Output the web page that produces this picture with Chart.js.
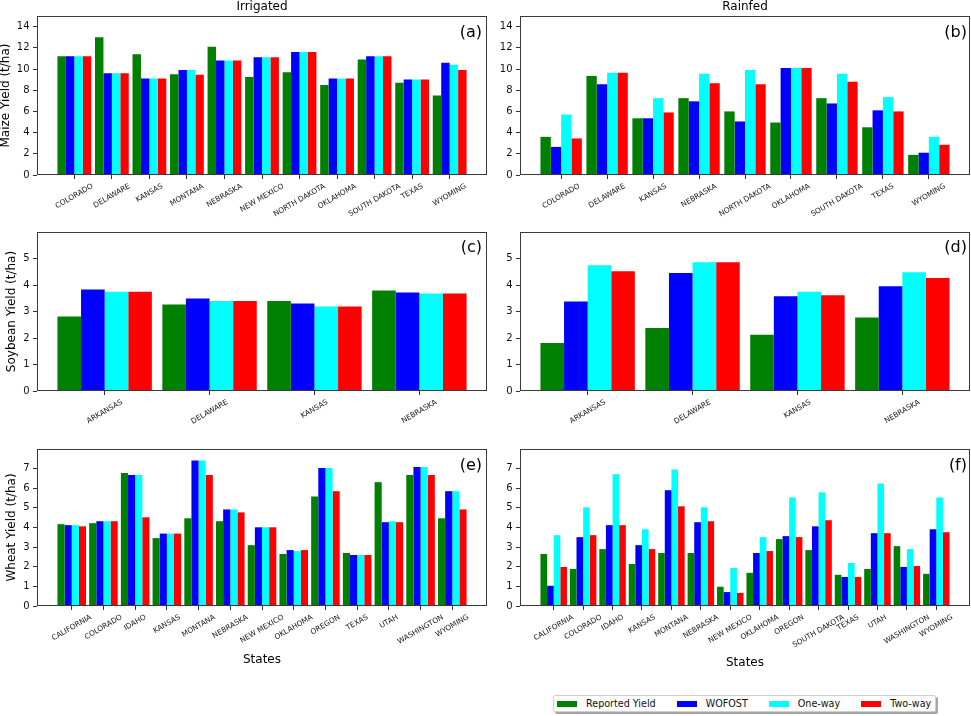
<!DOCTYPE html>
<html><head><meta charset="utf-8">
<script src="https://cdn.jsdelivr.net/npm/chart.js@4.4.1/dist/chart.umd.min.js"></script>
<style>
html,body{margin:0;padding:0;background:#fff;}
body{width:971px;height:716px;overflow:hidden;position:relative;font-family:"DejaVu Sans",sans-serif;}
canvas{position:absolute;}
.txt{position:absolute;white-space:nowrap;color:#000;}
.letter{font-size:16px;line-height:16px;}
.coltitle{font-size:12px;line-height:12px;transform:translateX(-50%);}
#legend{position:absolute;left:553px;top:695px;height:17px;box-sizing:border-box;border:1px solid #cfcfcf;border-radius:2px;background:#fff;box-shadow:2px 2px 0 rgba(0,0,0,0.35);display:flex;align-items:center;padding:0 4px 0 3px;font-size:9.6px;}
#legend .sw{width:20px;height:6px;margin-right:9px;}
#legend .lb{margin-right:21px;color:#111;}
#legend .lb:last-child{margin-right:0;}
</style></head><body>
<canvas id="pa"></canvas><canvas id="pb"></canvas>
<canvas id="pc"></canvas><canvas id="pd"></canvas>
<canvas id="pe"></canvas><canvas id="pf"></canvas>
<div class="txt coltitle" style="left:262px;top:0px;">Irrigated</div>
<div class="txt coltitle" style="left:745px;top:0px;">Rainfed</div>
<div class="txt letter" style="right:489px;top:24px;">(a)</div>
<div class="txt letter" style="right:4px;top:24px;">(b)</div>
<div class="txt letter" style="right:489px;top:239px;">(c)</div>
<div class="txt letter" style="right:4px;top:239px;">(d)</div>
<div class="txt letter" style="right:489px;top:457px;">(e)</div>
<div class="txt letter" style="right:4px;top:457px;">(f)</div>
<div id="legend"></div>
<script>
// ---- series ----
const seriesNames = ['Reported Yield', 'WOFOST', 'One-way', 'Two-way'];
const seriesColors = ['#008000', '#0000ff', '#00ffff', '#ff0000'];

// ---- tick labels ----
const maizeTicks = [0, 2, 4, 6, 8, 10, 12, 14];
const maizeMax = 15;
const soyTicks = [0, 1, 2, 3, 4, 5];
const soyMax = 6;
const wheatTicks = [0, 1, 2, 3, 4, 5, 6, 7];
const wheatMax = 8;

// ---- (a) Maize, irrigated ----
const maizeIrrStates = ['COLORADO','DELAWARE','KANSAS','MONTANA','NEBRASKA','NEW MEXICO','NORTH DAKOTA','OKLAHOMA','SOUTH DAKOTA','TEXAS','WYOMING'];
const maizeIrrReported = [11.2, 13.0, 11.4, 9.5, 12.1, 9.25, 9.7, 8.5, 10.9, 8.7, 7.5];
const maizeIrrWofost   = [11.2, 9.6, 9.1, 9.9, 10.8, 11.1, 11.6, 9.1, 11.2, 9.0, 10.6];
const maizeIrrOneway   = [11.2, 9.6, 9.1, 9.9, 10.8, 11.1, 11.6, 9.1, 11.2, 9.0, 10.4];
const maizeIrrTwoway   = [11.2, 9.6, 9.1, 9.45, 10.8, 11.1, 11.6, 9.1, 11.2, 9.0, 9.9];

// ---- (b) Maize, rainfed ----
const maizeRfStates = ['COLORADO','DELAWARE','KANSAS','NEBRASKA','NORTH DAKOTA','OKLAHOMA','SOUTH DAKOTA','TEXAS','WYOMING'];
const maizeRfReported = [3.6, 9.35, 5.35, 7.25, 6.0, 4.95, 7.25, 4.5, 1.9];
const maizeRfWofost   = [2.65, 8.55, 5.35, 6.95, 5.05, 10.1, 6.75, 6.1, 2.1];
const maizeRfOneway   = [5.7, 9.65, 7.25, 9.55, 9.9, 10.1, 9.55, 7.35, 3.6];
const maizeRfTwoway   = [3.45, 9.65, 5.9, 8.65, 8.55, 10.1, 8.8, 6.0, 2.85];

// ---- (c) Soybean, irrigated ----
const soyIrrStates = ['ARKANSAS','DELAWARE','KANSAS','NEBRASKA'];
const soyIrrReported = [2.81, 3.26, 3.40, 3.79];
const soyIrrWofost   = [3.83, 3.49, 3.30, 3.72];
const soyIrrOneway   = [3.75, 3.40, 3.19, 3.68];
const soyIrrTwoway   = [3.75, 3.40, 3.19, 3.68];

// ---- (d) Soybean, rainfed ----
const soyRfStates = ['ARKANSAS','DELAWARE','KANSAS','NEBRASKA'];
const soyRfReported = [1.81, 2.38, 2.12, 2.77];
const soyRfWofost   = [3.38, 4.45, 3.58, 3.95];
const soyRfOneway   = [4.75, 4.86, 3.75, 4.48];
const soyRfTwoway   = [4.52, 4.86, 3.61, 4.26];

// ---- (e) Wheat, irrigated ----
const wheatIrrStates = ['CALIFORNIA','COLORADO','IDAHO','KANSAS','MONTANA','NEBRASKA','NEW MEXICO','OKLAHOMA','OREGON','TEXAS','UTAH','WASHINGTON','WYOMING'];
const wheatIrrReported = [4.17, 4.22, 6.78, 3.46, 4.47, 4.32, 3.10, 2.65, 5.58, 2.70, 6.31, 6.68, 4.47];
const wheatIrrWofost   = [4.12, 4.32, 6.68, 3.69, 7.42, 4.92, 4.01, 2.85, 7.03, 2.60, 4.27, 7.08, 5.85];
const wheatIrrOneway   = [4.12, 4.32, 6.68, 3.69, 7.42, 4.92, 4.01, 2.80, 7.03, 2.60, 4.32, 7.08, 5.85];
const wheatIrrTwoway   = [4.06, 4.32, 4.52, 3.69, 6.68, 4.77, 4.01, 2.85, 5.85, 2.60, 4.27, 6.68, 4.92];

// ---- (f) Wheat, rainfed ----
const wheatRfStates = ['CALIFORNIA','COLORADO','IDAHO','KANSAS','MONTANA','NEBRASKA','NEW MEXICO','OKLAHOMA','OREGON','SOUTH DAKOTA','TEXAS','UTAH','WASHINGTON','WYOMING'];
const wheatRfReported = [2.65, 1.89, 2.90, 2.14, 2.70, 2.70, 0.98, 1.69, 3.41, 2.85, 1.59, 1.89, 3.05, 1.64];
const wheatRfWofost   = [1.03, 3.51, 4.12, 3.10, 5.90, 4.27, 0.71, 2.70, 3.56, 4.06, 1.48, 3.71, 1.99, 3.91];
const wheatRfOneway   = [3.61, 5.03, 6.71, 3.91, 6.95, 5.03, 1.94, 3.51, 5.53, 5.79, 2.19, 6.24, 2.90, 5.53];
const wheatRfTwoway   = [1.99, 3.61, 4.12, 2.90, 5.08, 4.32, 0.67, 2.80, 3.51, 4.37, 1.48, 3.71, 2.04, 3.76];

// ---- legend (HTML, built from series arrays) ----
const legendEl = document.getElementById('legend');
seriesNames.forEach((n, i) => {
  const sw = document.createElement('span'); sw.className = 'sw'; sw.style.background = seriesColors[i];
  const lb = document.createElement('span'); lb.className = 'lb'; lb.textContent = n;
  legendEl.appendChild(sw); legendEl.appendChild(lb);
});

// ---- plugins ----
const framePlugin = {
  id: 'frame',
  afterDraw(chart) {
    const a = chart.chartArea, ctx = chart.ctx;
    ctx.save();
    ctx.strokeStyle = '#3a3a3a'; ctx.lineWidth = 1;
    ctx.strokeRect(Math.round(a.left) + 0.5, Math.round(a.top) + 0.5, Math.round(a.right - a.left) - 1, Math.round(a.bottom - a.top) - 1);
    ctx.restore();
  }
};
// matplotlib-style centring of rotated tick labels
const centerLabelsPlugin = {
  id: 'centerLabels',
  beforeDraw(chart) {
    const scale = chart.scales.x;
    if (!scale || typeof scale.getLabelItems !== 'function') return;
    const items = scale.getLabelItems();
    const ctx = chart.ctx;
    const ang = Math.PI / 6;
    items.forEach((item, i) => {
      if (item._centered) return;
      ctx.save(); ctx.font = item.font.string;
      const w = ctx.measureText(String(item.label)).width;
      ctx.restore();
      const h = item.font.size;
      const tx = scale.getPixelForTick(i);
      const bbH = w * Math.sin(ang) + h * Math.cos(ang);
      item.options.translation = [tx, scale.top + 7.5 + bbH / 2];
      item.options.textAlign = 'center';
      item.options.textBaseline = 'middle';
      item.textOffset = 0;
      item._centered = true;
    });
  }
};

function makePanel(p) {
  const cv = document.getElementById(p.id);
  cv.width = p.w; cv.height = p.h;
  cv.style.left = p.left + 'px'; cv.style.top = p.top + 'px';
  cv.style.width = p.w + 'px'; cv.style.height = p.h + 'px';
  const n = p.states.length;
  const half = 0.45;
  const extent = (n - 1) + 2 * half;
  const margin = 0.05 * extent;
  const datasets = p.series.map((vals, k) => ({
    label: seriesNames[k],
    data: vals.map((v, i) => ({ x: i, y: v })),
    backgroundColor: seriesColors[k],
    borderWidth: 0,
    categoryPercentage: 0.9,
    barPercentage: 1.0
  }));
  new Chart(cv, {
    type: 'bar',
    data: { datasets },
    options: {
      responsive: false, maintainAspectRatio: false, animation: false,
      devicePixelRatio: 1,
      layout: { padding: { top: p.padTop, right: p.padRight, left: 0, bottom: 0 } },
      plugins: { legend: { display: false }, tooltip: { enabled: false }, title: { display: false } },
      scales: {
        x: {
          type: 'linear', offset: false, bounds: 'data',
          min: -half - margin, max: (n - 1) + half + margin,
          afterBuildTicks: s => { s.ticks = p.states.map((_, i) => ({ value: i })); },
          afterFit: s => { s.height = p.xAxisH; s.paddingLeft = 0; s.paddingRight = 0; },
          grid: { display: true, drawOnChartArea: false, drawTicks: true, tickLength: 4, tickColor: '#333', color: '#333', offset: false },
          border: { display: false },
          ticks: {
            autoSkip: false, minRotation: 30, maxRotation: 30, padding: 2,
            font: { family: '"DejaVu Sans", sans-serif', size: 7.4 },
            color: '#222',
            callback: v => p.states[v]
          },
          title: p.xTitle ? { display: true, text: p.xTitle, color: '#000', font: { family: '"DejaVu Sans", sans-serif', size: 12 }, padding: { top: 0, bottom: p.xTitlePad } } : { display: false }
        },
        y: {
          type: 'linear', min: 0, max: p.yMax, bounds: 'data',
          afterBuildTicks: s => { s.ticks = p.ticks.map(v => ({ value: v })); },
          afterFit: s => { s.width = 37; s.paddingTop = 0; s.paddingBottom = 0; },
          grid: { display: true, drawOnChartArea: false, drawTicks: true, tickLength: 4, tickColor: '#333', color: '#333' },
          border: { display: false },
          ticks: {
            padding: 3.5, color: '#111',
            font: { family: '"DejaVu Sans", sans-serif', size: 10 },
            callback: v => String(v)
          },
          title: p.yTitle ? { display: true, text: p.yTitle, color: '#000', font: { family: '"DejaVu Sans", sans-serif', size: 12, lineHeight: 1 }, padding: { top: p.yTitlePad, bottom: 0 } } : { display: false }
        }
      }
    },
    plugins: [centerLabelsPlugin, framePlugin]
  });
}

makePanel({ id: 'pa', left: 0, top: 0, w: 489, h: 226, padTop: 16, padRight: 2, xAxisH: 51,
  states: maizeIrrStates, series: [maizeIrrReported, maizeIrrWofost, maizeIrrOneway, maizeIrrTwoway],
  ticks: maizeTicks, yMax: maizeMax, yTitle: 'Maize Yield (t/ha)', yTitlePad: 0 });
makePanel({ id: 'pb', left: 483, top: 0, w: 488, h: 226, padTop: 16, padRight: 1, xAxisH: 51,
  states: maizeRfStates, series: [maizeRfReported, maizeRfWofost, maizeRfOneway, maizeRfTwoway],
  ticks: maizeTicks, yMax: maizeMax });
makePanel({ id: 'pc', left: 0, top: 226, w: 489, h: 220, padTop: 6, padRight: 2, xAxisH: 55,
  states: soyIrrStates, series: [soyIrrReported, soyIrrWofost, soyIrrOneway, soyIrrTwoway],
  ticks: soyTicks, yMax: soyMax, yTitle: 'Soybean Yield (t/ha)', yTitlePad: 6 });
makePanel({ id: 'pd', left: 483, top: 226, w: 488, h: 220, padTop: 6, padRight: 1, xAxisH: 55,
  states: soyRfStates, series: [soyRfReported, soyRfWofost, soyRfOneway, soyRfTwoway],
  ticks: soyTicks, yMax: soyMax });
makePanel({ id: 'pe', left: 0, top: 446, w: 489, h: 234, padTop: 3, padRight: 2, xAxisH: 74,
  states: wheatIrrStates, series: [wheatIrrReported, wheatIrrWofost, wheatIrrOneway, wheatIrrTwoway],
  ticks: wheatTicks, yMax: wheatMax, yTitle: 'Wheat Yield (t/ha)', yTitlePad: 6, xTitle: 'States', xTitlePad: 12.8 });
makePanel({ id: 'pf', left: 483, top: 446, w: 488, h: 234, padTop: 3, padRight: 1, xAxisH: 74,
  states: wheatRfStates, series: [wheatRfReported, wheatRfWofost, wheatRfOneway, wheatRfTwoway],
  ticks: wheatTicks, yMax: wheatMax, xTitle: 'States', xTitlePad: 9.8 });
</script>
</body></html>
